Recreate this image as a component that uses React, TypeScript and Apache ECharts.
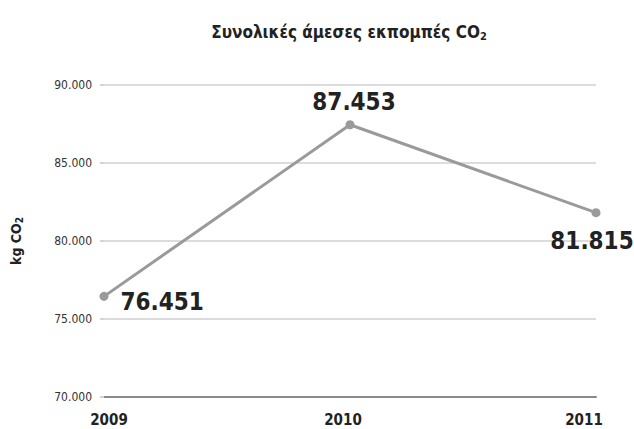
import React, { useEffect, useRef } from "react";
import * as echarts from "echarts";

const years = ["2009", "2010", "2011"];
const emissions = [76451, 87453, 81815];
const yMin = 70000;
const yMax = 90000;
const yStep = 5000;
const titleText = "Συνολικές άμεσες εκπομπές CO";
const yAxisName = "kg CO";

const FONT = "'Liberation Sans Narrow', 'DejaVu Sans Condensed', sans-serif";

function fmt(v: number): string {
  return String(Math.round(v)).replace(/\B(?=(\d{3})+(?!\d))/g, ".");
}

export default function App() {
  const ref = useRef<HTMLDivElement>(null);
  useEffect(() => {
    if (!ref.current) return;
    const chart = echarts.init(ref.current, undefined, { renderer: "svg" });
    const labelPos = ["right", "top", "bottom"];
    const labelOffset = [[2, 6], [4, 4], [-4, 2]];
    const xLabelStyle = { fontFamily: FONT, fontSize: 15, fontWeight: "bold", color: "#222" };
    chart.setOption({
      animation: false,
      backgroundColor: "#ffffff",
      textStyle: { fontFamily: FONT },
      title: {
        text: titleText + "{sub|2}",
        left: 344,
        top: 17,
        textAlign: "center",
        textStyle: {
          fontFamily: FONT,
          fontSize: 17,
          fontWeight: "bold",
          color: "#222",
          rich: {
            sub: { fontFamily: FONT, fontSize: 11, fontWeight: "bold", color: "#222", padding: [9, 0, 0, 0] },
          },
        },
      },
      grid: { left: 104, right: 38, top: 85, bottom: 32 },
      xAxis: {
        type: "category",
        data: years,
        boundaryGap: false,
        axisLine: { show: true, lineStyle: { color: "#8a8a8a", width: 2 } },
        axisTick: { show: false },
        axisLabel: {
          margin: 15,
          formatter: (v: string) => {
            const i = years.indexOf(v);
            return "{y" + i + "|" + v + "}";
          },
          rich: {
            y0: { ...xLabelStyle, padding: [0, 0, 0, 10] },
            y1: { ...xLabelStyle, padding: [0, 14, 0, 0] },
            y2: { ...xLabelStyle, padding: [0, 24, 0, 0] },
          },
        },
      },
      yAxis: {
        type: "value",
        min: yMin,
        max: yMax,
        interval: yStep,
        name: yAxisName + "{sub|2}",
        nameLocation: "middle",
        nameGap: 80,
        nameRotate: 90,
        nameTextStyle: {
          fontFamily: FONT,
          fontSize: 14,
          fontWeight: "bold",
          color: "#222",
          rich: {
            sub: { fontFamily: FONT, fontSize: 10, fontWeight: "bold", color: "#222", padding: [6, 0, 0, 0] },
          },
        },
        axisLine: { show: false },
        axisTick: { show: true, length: 4, lineStyle: { color: "#d4d4d4", width: 2 } },
        splitLine: { show: true, lineStyle: { color: "#dcdcdc", width: 2 } },
        axisLabel: {
          fontFamily: FONT,
          fontSize: 12,
          color: "#333",
          margin: 12,
          formatter: (v: number) => fmt(v),
        },
      },
      series: [
        {
          type: "line",
          data: emissions.map((v, i) => ({
            value: v,
            label: { position: labelPos[i], offset: labelOffset[i] },
          })),
          symbol: "circle",
          symbolSize: 9,
          lineStyle: { color: "#9a9a9a", width: 3 },
          itemStyle: { color: "#9a9a9a" },
          label: {
            show: true,
            fontFamily: FONT,
            fontSize: 24,
            fontWeight: "bold",
            color: "#222",
            distance: 10,
            formatter: (p: any) => fmt(p.value),
          },
        },
      ],
    });
    return () => chart.dispose();
  }, []);
  return (
    <div
      ref={ref}
      style={{ position: "fixed", left: 0, top: 0, width: 634, height: 429 }}
    />
  );
}
